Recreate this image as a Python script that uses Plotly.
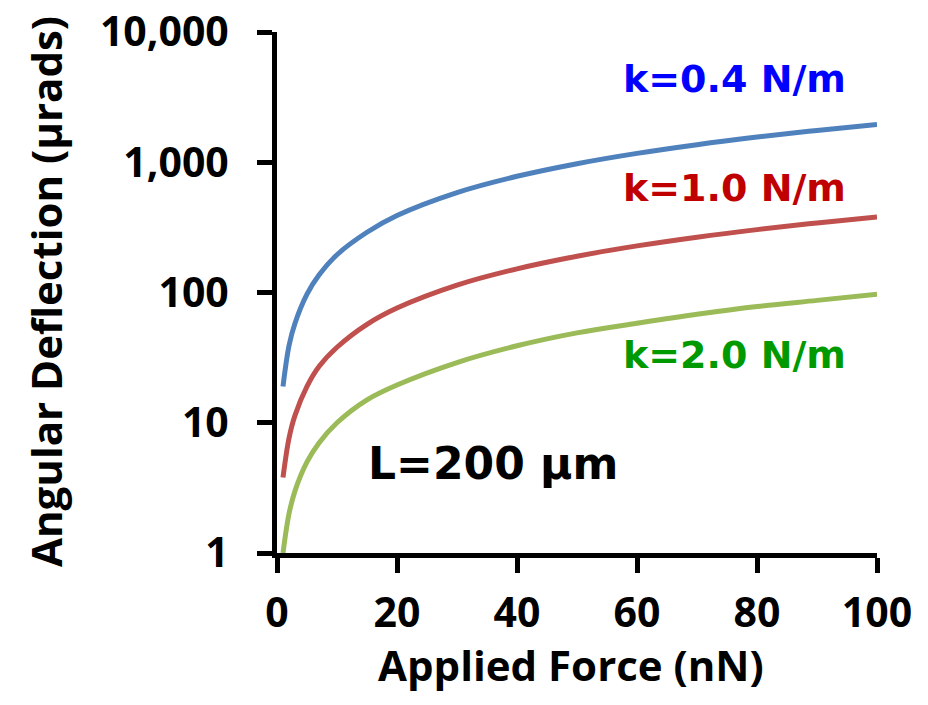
import plotly.graph_objects as go

# Applied force (nN)
force = [1, 2, 3, 5, 7, 10, 15, 20, 30, 40, 50, 60, 70, 80, 90, 100]
# Angular deflection (µrads)
defl_k04 = [19, 39, 58, 97, 136, 195, 290, 390, 585, 780, 975, 1170, 1365, 1560, 1755, 1950]
defl_k10 = [3.8, 7.6, 11.4, 19, 27, 38, 57, 76, 114, 152, 190, 228, 266, 304, 342, 380]
defl_k20 = [1.0, 2.0, 3.0, 5.0, 7.0, 10, 15, 19.5, 29, 39, 49, 58, 68, 78, 87, 97]

series_names = ["k=0.4 N/m", "k=1.0 N/m", "k=2.0 N/m"]
line_colors = ["#4F81BD", "#C0504D", "#9BBB59"]
label_colors = ["#0000FF", "#C00000", "#009A00"]
label_py = [79, 188, 355]

y_tickvals = [1, 10, 100, 1000, 10000]
y_ticktext = ["1", "10", "100", "1,000", "10,000"]
x_tickvals = [0, 20, 40, 60, 80, 100]

# plot-area pixel geometry in the reference
X0, X1, Y0, Y1 = 277, 877, 32, 553
PAGE_OFF = 8  # default body margin of the html page


def px(x):
    return (x - X0) / (X1 - X0)


def py(y):
    return (Y1 - y) / (Y1 - Y0)


fig = go.Figure()
for name, ys, col in zip(series_names, [defl_k04, defl_k10, defl_k20], line_colors):
    fig.add_trace(go.Scatter(x=force, y=ys, mode="lines", name=name,
                             line=dict(color=col, width=5, shape="spline"),
                             showlegend=False))

tick_font = dict(family="Open Sans", size=41, color="black", weight="bold")
axis_common = dict(showline=True, linecolor="black", linewidth=5,
                   ticks="outside", ticklen=15, tickwidth=5, tickcolor="black",
                   showgrid=False, zeroline=False, tickfont=tick_font,
                   ticklabeloverflow="allow")

fig.update_xaxes(range=[0, 100], tickvals=x_tickvals, ticklabelstandoff=5, **axis_common)
fig.update_yaxes(type="log", range=[0, 4], tickvals=y_tickvals, ticktext=y_ticktext,
                 ticklabelstandoff=20, **axis_common)

annotations = []
for name, col, yy in zip(series_names, label_colors, label_py):
    annotations.append(dict(text=name, x=px(734), y=py(yy), xref="paper", yref="paper",
                            showarrow=False, xanchor="center", yanchor="middle",
                            font=dict(family="DejaVu Sans", size=38, color=col, weight="bold")))
annotations.append(dict(text="L=200 µm", x=px(493), y=py(463),
                        xref="paper", yref="paper", showarrow=False,
                        xanchor="center", yanchor="middle",
                        font=dict(family="DejaVu Sans", size=44, color="black", weight="bold")))
annotations.append(dict(text="Applied Force (nN)", x=px(571), y=py(664),
                        xref="paper", yref="paper", showarrow=False,
                        xanchor="center", yanchor="middle",
                        font=dict(family="Open Sans", size=42, color="black", weight="bold")))
annotations.append(dict(text="Angular Deflection (µrads)", x=px(45), y=py(292),
                        xref="paper", yref="paper", showarrow=False, textangle=-90,
                        xanchor="center", yanchor="middle",
                        font=dict(family="Open Sans", size=42, color="black", weight="bold")))

W, H = 928 - PAGE_OFF, 705 - PAGE_OFF
fig.update_layout(width=W, height=H,
                  margin=dict(l=X0 - PAGE_OFF, r=W - (X1 - PAGE_OFF),
                              t=Y0 - PAGE_OFF, b=H - (Y1 - PAGE_OFF), autoexpand=False),
                  paper_bgcolor="white", plot_bgcolor="white", annotations=annotations)

fig.write_html("out.html")
